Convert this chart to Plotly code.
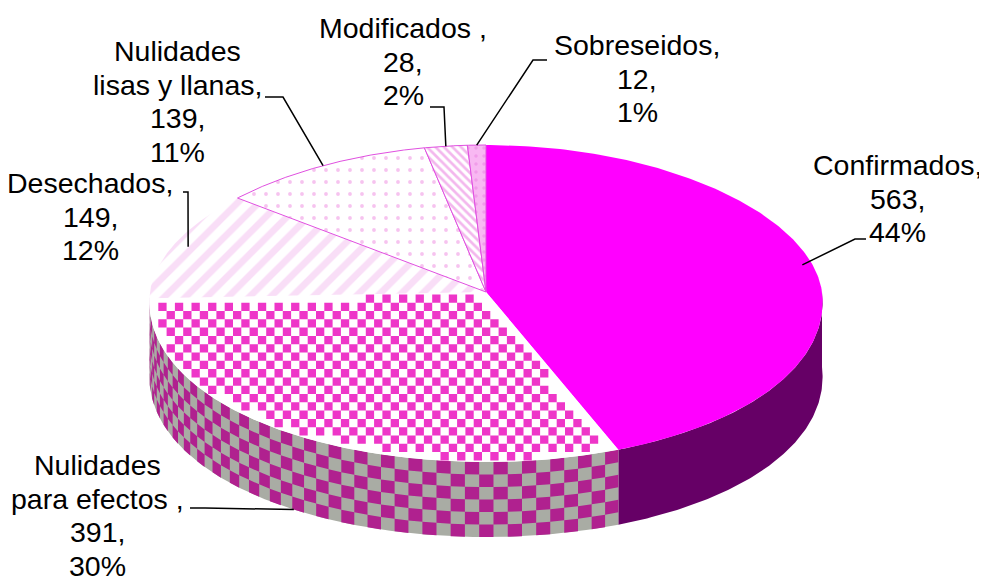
import numpy as np
import plotly.graph_objects as go

# ---- data ----
names = ["Confirmados", "Nulidades para efectos", "Desechados",
         "Nulidades lisas y llanas", "Modificados", "Sobreseidos"]
values = [563, 391, 149, 139, 28, 12]
name_lines = [["Confirmados,"], ["Nulidades", "para efectos ,"], ["Desechados,"],
              ["Nulidades", "lisas y llanas,"], ["Modificados ,"], ["Sobreseidos,"]]

# ---- styles ----
top_styles = [
    dict(fillcolor="#FF00FF", pattern=None, line=None, checker=None),
    dict(fillcolor="#FFFFFF", pattern=None, line=None, checker="#EE36C8"),
    dict(fillcolor="#FFFFFF", pattern=dict(shape="/", fgcolor="#F4BDF0", bgcolor="#FFFFFF", size=15, solidity=0.45), line=None, checker=None),
    dict(fillcolor="#FFFFFF", pattern=dict(shape=".", fgcolor="#EE88E0", bgcolor="#FFFFFF", size=12, solidity=0.08), line="#E050E0", checker=None),
    dict(fillcolor="#FFFFFF", pattern=dict(shape="\\", fgcolor="#E870DC", bgcolor="#FFFFFF", size=6, solidity=0.45), line="#E050E0", checker=None),
    dict(fillcolor="#F8B8F2", pattern=dict(shape=".", fgcolor="#EA80E0", bgcolor="#F8B8F2", size=8, solidity=0.15), line="#E050E0", checker=None),
]
side_styles = [
    dict(fillcolor="#660066", pattern=None, checker=None),
    dict(fillcolor="#A9ACA4", pattern=None, checker="#B0218F"),
    dict(fillcolor="#FFFFFF", pattern=dict(shape="/", fgcolor="#E8A8E4", bgcolor="#FFFFFF", size=14, solidity=0.45), checker=None),
    dict(fillcolor="#FFFFFF", pattern=None, checker=None),
    dict(fillcolor="#FFFFFF", pattern=None, checker=None),
    dict(fillcolor="#F8B8F2", pattern=None, checker=None),
]
FONT = dict(family="Liberation Sans, Arial, sans-serif", size=28.5, color="#000000")

# label layout (centre x, first-line y) and leader elbows
label_pos = [(897, 165), (97, 465), (90, 183), (177, 51), (403, 28), (637, 45)]
line_gap = 33.5
elbows = [[(866, 239), (855, 239)], [(190, 508), (205, 508)], [(183, 192), (188, 192)],
          [(265, 97), (283, 97)], [(430, 107), (444, 107)], [(547, 60), (533, 60)]]
leader_r = [0.97, 1.0, 0.955, 1.0, 1.0, 1.0]

# ---- geometry ----
CX, CY, RX, RY_TOP, RY_BOT, DEPTH, PERSP = 486, 292, 336, 147, 170, 75, 0.06
CELL, SIDE_ROWS, SIDE_STEP = 8.3, 6, 2.3


def ell(theta_deg, dz=0.0, r=1.0):
    t = np.radians(np.asarray(theta_deg, dtype=float))
    c, s = np.cos(t), np.sin(t)
    x = CX + r * RX * s * (1 - PERSP * c)
    y = CY - r * np.where(c > 0, RY_TOP, RY_BOT) * c + dz
    return x, y


def inside_top(x, y, a1, a2):
    ry = np.where(y < CY, RY_TOP, RY_BOT)
    vy = (CY - y) / ry
    u = (x - CX) / RX / (1 - PERSP * np.clip(vy, -1, 1))
    r = np.hypot(u, vy)
    th = np.degrees(np.arctan2(u, vy)) % 360
    return (r <= 1) & (th >= a1) & (th <= a2)


total = sum(values)
angles = np.cumsum([0] + values) / total * 360.0
fig = go.Figure()


def add_poly(xs, ys, fillcolor, pattern=None, line=None):
    kw = dict(x=list(xs), y=list(ys), mode="lines", fill="toself",
              fillcolor=fillcolor, hoverinfo="skip", showlegend=False,
              line=dict(width=1 if line else 0, color=line or "rgba(0,0,0,0)"))
    if pattern:
        kw["fillpattern"] = pattern
    fig.add_trace(go.Scatter(**kw))


def side_checker(lo, hi, color):
    xs, ys = [], []
    n_t = int(np.ceil((hi - lo) / SIDE_STEP))
    dz = DEPTH / SIDE_ROWS
    for i in range(n_t):
        t0, t1 = lo + i * SIDE_STEP, min(lo + (i + 1) * SIDE_STEP, hi)
        th = np.linspace(t0, t1, 4)
        for j in range(SIDE_ROWS):
            if (i + j) % 2:
                continue
            xt, yt = ell(th, j * dz)
            xb, yb = ell(th[::-1], (j + 1) * dz)
            xs += list(xt) + list(xb) + [None]
            ys += list(yt) + list(yb) + [None]
    fig.add_trace(go.Scatter(x=xs, y=ys, mode="lines", fill="toself", fillcolor=color,
                             line=dict(width=0, color="rgba(0,0,0,0)"),
                             hoverinfo="skip", showlegend=False))


def top_checker(a1, a2, color):
    xs, ys = [], []
    gx = np.arange(CX - RX - CELL, CX + RX + CELL, CELL)
    gy = np.arange(CY - RY_TOP - CELL, CY + RY_BOT + CELL, CELL)
    for i, x0 in enumerate(gx):
        for j, y0 in enumerate(gy):
            if (i + j) % 2:
                continue
            cx = np.array([x0, x0 + CELL, x0 + CELL, x0])
            cy = np.array([y0, y0, y0 + CELL, y0 + CELL])
            if inside_top(cx, cy, a1, a2).all():
                xs += list(cx) + [None]
                ys += list(cy) + [None]
    fig.add_trace(go.Scatter(x=xs, y=ys, mode="lines", fill="toself", fillcolor=color,
                             line=dict(width=0, color="rgba(0,0,0,0)"),
                             hoverinfo="skip", showlegend=False))


# sides (front half only: 90..270 deg clockwise from top)
for i in range(len(values)):
    lo, hi = max(angles[i], 90.0), min(angles[i + 1], 270.0)
    if hi <= lo:
        continue
    th = np.linspace(lo, hi, 120)
    xt, yt = ell(th)
    xb, yb = ell(th[::-1], DEPTH)
    st = side_styles[i]
    add_poly(np.r_[xt, xb, xt[:1]], np.r_[yt, yb, yt[:1]], st["fillcolor"], st["pattern"])
    if st["checker"]:
        side_checker(lo, hi, st["checker"])

# tops
for i in range(len(values)):
    th = np.linspace(angles[i], angles[i + 1], 200)
    xa, ya = ell(th)
    st = top_styles[i]
    add_poly(np.r_[CX, xa, CX], np.r_[CY, ya, CY], st["fillcolor"], st["pattern"], st["line"])
    if st["checker"]:
        top_checker(angles[i], angles[i + 1], st["checker"])

# labels and leaders
ann = []
for i, v in enumerate(values):
    pct = round(v / total * 100)
    lines = name_lines[i] + [f"{v},", f"{pct}%"]
    lx, ly = label_pos[i]
    for k, txt in enumerate(lines):
        ann.append(dict(x=lx, y=ly + k * line_gap, text=txt, showarrow=False,
                        xanchor="center", yanchor="middle", font=FONT))
    mid = (angles[i] + angles[i + 1]) / 2
    c = np.cos(np.radians(mid))
    dz = DEPTH if c < -0.5 else 0.0
    px, py = ell(mid, dz, leader_r[i])
    ex = [p[0] for p in elbows[i]] + [float(px)]
    ey = [p[1] for p in elbows[i]] + [float(py)]
    fig.add_trace(go.Scatter(x=ex, y=ey, mode="lines", line=dict(color="#000000", width=1.5),
                             hoverinfo="skip", showlegend=False))

# the page body keeps its default 8px margin, so the figure is offset by 8px
fig.update_layout(
    width=979, height=574, margin=dict(l=0, r=0, t=0, b=0),
    paper_bgcolor="#FFFFFF", plot_bgcolor="#FFFFFF", annotations=ann,
    xaxis=dict(range=[8, 987], visible=False, fixedrange=True),
    yaxis=dict(range=[582, 8], visible=False, fixedrange=True),
)
fig.write_html("out.html")
